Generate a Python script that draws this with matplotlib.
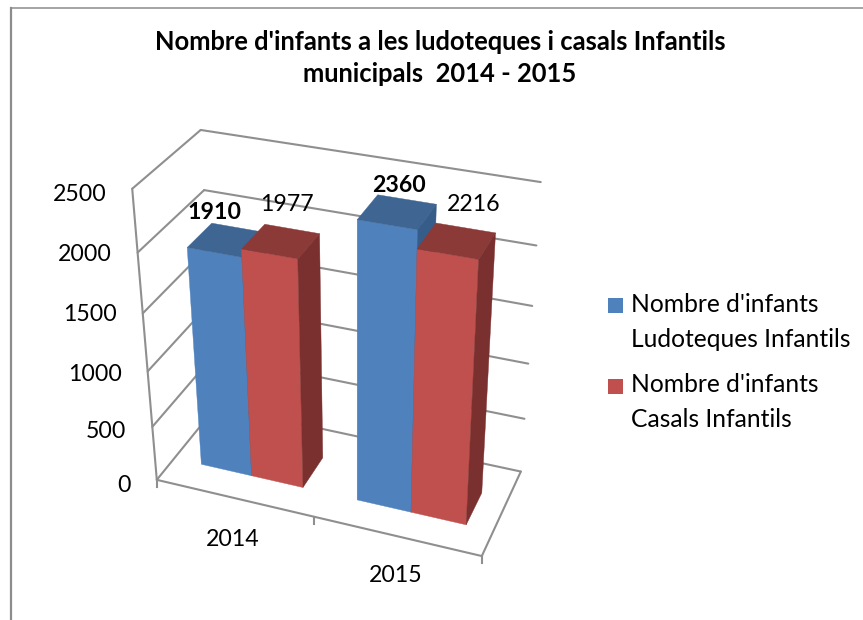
import numpy as np
import matplotlib
matplotlib.use("Agg")
import matplotlib.pyplot as plt
from matplotlib.patches import Polygon, Patch, Rectangle
from matplotlib.legend_handler import HandlerPatch

plt.rcParams['font.family'] = ['Lato', 'DejaVu Sans']

# ---- data ----
title = "Nombre d'infants a les ludoteques i casals Infantils\nmunicipals  2014 - 2015"
categories = ['2014', '2015']
ludoteques = [1910, 2360]
casals = [1977, 2216]
series_labels = ["Nombre d'infants\nLudoteques Infantils", "Nombre d'infants\nCasals Infantils"]
value_ticks = [0, 500, 1000, 1500, 2000, 2500]

# ---- 3D camera: fit of box coordinates (x, depth, value fraction) to the picture ----
cal_box = np.array([
    (0, 0, 0), (0, 0, .2), (0, 0, .4), (0, 0, .6), (0, 0, .8), (0, 0, 1),
    (.5, 0, 0), (1, 0, 0),
    (1, 1, 0), (1, 1, .2), (1, 1, .4), (1, 1, .6), (1, 1, .8), (1, 1, 1),
    (0, 1, .8), (0, 1, 1), (0, 1, 0)], float)
cal_pix = np.array([
    (155, 483), (151, 428), (147, 371), (143, 313), (140, 252), (134, 188),
    (313, 517), (482, 553),
    (521, 473), (524, 420), (528, 365), (532, 306), (537, 245), (541, 181),
    (202, 191), (199, 131), (220, 402)], float)
rows, rhs = [], []
for (X, Y, Z), (u, v) in zip(cal_box, cal_pix):
    rows.append([X, Y, Z, 1, 0, 0, 0, 0, -u * X, -u * Y, -u * Z]); rhs.append(u)
    rows.append([0, 0, 0, 0, X, Y, Z, 1, -v * X, -v * Y, -v * Z]); rhs.append(v)
P = np.append(np.linalg.lstsq(np.array(rows), np.array(rhs), rcond=None)[0], 1).reshape(3, 4)
VMAX = value_ticks[-1]


def proj(x, y, value):
    h = P @ np.array([x, y, value / VMAX, 1.0])
    return h[0] / h[2], h[1] / h[2]


W, H = 863, 620
fig = plt.figure(figsize=(W / 100, H / 100), dpi=100, facecolor='white')
ax = fig.add_axes([0, 0, 1, 1])
ax.set_xlim(0, W)
ax.set_ylim(H, 0)
ax.axis('off')

# outer frame (top and left only reach the picture border)
FRAME = '#8c8c8c'
ax.plot([11, W], [7.5, 7.5], color=FRAME, lw=1.1, zorder=1)
ax.plot([11, 11], [7.5, H], color=FRAME, lw=1.6, zorder=1)

GRID = '#8f8f8f'
LW = 1.5


def seg(a, b):
    pa, pb = proj(*a), proj(*b)
    ax.plot([pa[0], pb[0]], [pa[1], pb[1]], color=GRID, lw=LW, zorder=2,
            solid_capstyle='round')


for v in value_ticks:
    seg((0, 0, v), (0, 1, v))
    seg((0, 1, v), (1, 1, v))
seg((0, 0, 0), (0, 0, VMAX))
seg((0, 0, 0), (1, 0, 0))
seg((1, 0, 0), (1, 1, 0))
# tick marks below the front floor edge
for xt in (0, .5, 1):
    px, py = proj(xt, 0, 0)
    ax.plot([px, px], [py, py + 7], color=GRID, lw=LW, zorder=2)

# ---- bars ----
INSET = 0.09
BAR = 0.165
Y0, Y1 = 0.28, 0.66
HEIGHT_GAIN = 1.012
face = [('#4F81BD', '#3F6593', '#365C8A'), ('#C0504D', '#8C3A38', '#7A302E')]


def bar(x0, x1, val, colors, z):
    f, t, s = colors
    val = val * HEIGHT_GAIN
    faces = [
        ([(x0, Y0, 0), (x1, Y0, 0), (x1, Y0, val), (x0, Y0, val)], f),
        ([(x0, Y0, val), (x1, Y0, val), (x1, Y1, val), (x0, Y1, val)], t),
        ([(x1, Y0, 0), (x1, Y1, 0), (x1, Y1, val), (x1, Y0, val)], s),
    ]
    for pts, col in faces:
        ax.add_patch(Polygon([proj(*p) for p in pts], closed=True, facecolor=col,
                             edgecolor=col, lw=0.3, zorder=z))


z = 3
for i in range(len(categories)):
    left = i * 0.5 + INSET
    for j, vals in enumerate((ludoteques, casals)):
        bar(left + j * BAR, left + (j + 1) * BAR, vals[i], face[j], z)
        z += 1

# ---- text ----
FS = 16.7
LEG_FS = 17.7
TICK_Y = {0: 6, 500: 5, 1000: 3, 1500: 1, 2000: 2, 2500: 6}
for v in value_ticks:
    px, py = proj(0, 0, v)
    ax.text(px - 26, py + TICK_Y[v], str(v), ha='right', va='center', fontsize=FS, color='black', zorder=10)

CAT_POS = [(233, 540), (396, 576)]
for c, (cx, cy) in zip(categories, CAT_POS):
    ax.text(cx, cy, c, ha='center', va='center', fontsize=FS, color='black', zorder=10)

# data labels, placed relative to the top of each bar
for i in range(len(categories)):
    left = i * 0.5 + INSET
    for j, vals in enumerate((ludoteques, casals)):
        xc = left + (j + .5) * BAR
        px, py = proj(xc, Y1, vals[i] * HEIGHT_GAIN)
        dx, dy = [[(-24, -15), (-5, -24)], [(-8, -14), (8, -23)]][i][j]
        ax.text(px + dx, py + dy, str(vals[i]), ha='center', va='center', fontsize=FS,
                fontweight='bold' if j == 0 else 'normal', color='black', zorder=20)

ax.set_title(title, x=440 / W, y=1 - 94 / H, fontsize=18.4, fontweight='bold',
             linespacing=1.36, va='bottom', color='black')


# legend, swatch aligned to the first text line
class FirstLineHandler(HandlerPatch):
    def create_artists(self, legend, orig, xd, yd, width, height, fontsize, trans):
        r = Rectangle((0, 18 * .72), 15 * .72, 15 * .72,
                      facecolor=orig.get_facecolor(), edgecolor='none', transform=trans)
        return [r]


handles = [Patch(facecolor=face[0][0], label=series_labels[0]),
           Patch(facecolor=face[1][0], label=series_labels[1])]
hmap = {h: FirstLineHandler() for h in handles}
leg = ax.legend(handles=handles, handler_map=hmap, loc='upper left',
                bbox_to_anchor=(608 / W, 1 - 293 / H), bbox_transform=ax.transAxes,
                frameon=False, fontsize=LEG_FS, borderpad=0, borderaxespad=0,
                handlelength=15 * .72 / LEG_FS, handletextpad=8 * .72 / LEG_FS, labelspacing=0.93)
for t in leg.get_texts():
    t.set_linespacing(1.61)
    t.set_color('black')
leg.set_zorder(20)

fig.savefig('out.png', dpi=100, facecolor='white')
